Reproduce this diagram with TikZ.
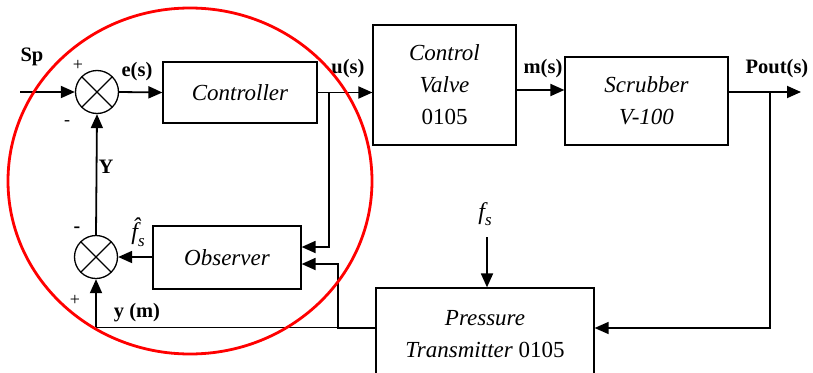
\documentclass[tikz,border=0pt]{standalone}
\usepackage{fontspec}
\setmainfont{Liberation Serif}
\usetikzlibrary{arrows.meta}
\tikzset{
	blk/.style={draw, line width=1.2pt, inner sep=0pt, align=center, font=\fontsize{23}{32}\selectfont\itshape},
	sumj/.style={draw, circle, line width=1.3pt, minimum size=43pt, inner sep=0pt,
		path picture={\draw[line width=1.1pt] (path picture bounding box.north west) -- (path picture bounding box.south east)
			(path picture bounding box.north east) -- (path picture bounding box.south west);}},
	sig/.style={line width=1.8pt, -{Triangle[length=14pt,width=12pt]}},
	lab/.style={font=\fontsize{20.5}{21}\selectfont\bfseries},
	sgn/.style={font=\fontsize{18}{18}\selectfont},
	sym/.style={font=\fontsize{24}{24}\selectfont\itshape, inner sep=1pt},
}
\newcommand{\subs}{\raisebox{-0.28em}{\fontsize{17}{17}\selectfont\itshape s}}
\begin{document}
\begin{tikzpicture}[x=1pt, y=-1pt]
		\useasboundingbox (0, 0) rectangle (813, 372);
		% blocks
		\node[sumj] (sum1) at (97, 92) {};
		\node[sumj] (sum2) at (96, 257) {};
		\node[blk, minimum width=154pt, minimum height=61pt] (ctrl) at (240, 92.5) {Controller};
		\node[blk, minimum width=143pt, minimum height=120pt] (valve) at (444.5, 85) {Control\\Valve\\\upshape 0105};
		\node[blk, minimum width=163pt, minimum height=88pt] (scrub) at (646.5, 101) {Scrubber\\V-100};
		\node[blk, minimum width=148pt, minimum height=63pt] (obs) at (227, 257.5) {Observer};
		\node[blk, minimum width=218pt, minimum height=92pt] (ptx) at (485, 334) {Pressure\\Transmitter \upshape 0105};
		% free ends
		\coordinate (sp) at (20, 92);
		\coordinate (out) at (801, 92);
		\coordinate (ubr) at (329, 92);
		\coordinate (pbr) at (770, 92);
		\coordinate (fs) at (487, 237);
		\coordinate (ym) at (96, 327);
		\coordinate (obr) at (338, 328);
		% forward path
		\draw[sig] (sp) -- (sum1.west);
		\draw[sig] (sum1.east) -- (ctrl.west);
		\draw[sig] (ctrl.east) -- (ctrl.east -| valve.west);
		\draw[sig] (valve.east |- 0, 90) -- (scrub.west |- 0, 90);
		\draw[sig] (scrub.east |- out) -- (out);
		% feedback paths
		\draw[line width=1.5pt, -{Triangle[length=14pt,width=12pt]}] (pbr) -- (770, 328) -- (ptx.east |- 0, 328);
		\draw[sig] (ubr) -- (329, 247) -- (obs.east |- 0, 247);
		\draw[sig] (ptx.west |- obr) -- (obr) -- (338, 264) -- (obs.east |- 0, 264);
		\draw[line width=0.8pt] (ptx.west |- ym) -- (ym);
		\draw[sig] (ym) -- (sum2.south);
		\draw[sig] (sum2 -| obs.west) -- (sum2.east);
		\draw[sig] (sum2.north) -- (sum1.south);
		\draw[sig] (fs) -- (fs |- ptx.north);
		% labels
		\node[lab] (lsp) at (32, 57) {Sp};
		\node[lab] (les) at (137, 72) {e(s)};
		\node[lab] (lus) at (348, 69) {u(s)};
		\node[lab] (lms) at (543, 69) {m(s)};
		\node[lab] (lpo) at (777, 69) {Pout(s)};
		\node[lab] (ly) at (106, 167) {Y};
		\node[lab] (lym) at (137, 313) {y (m)};
		\node[sgn] (p1) at (78, 65) {+};
		\node[sgn] (m1) at (67, 123) {-};
		\node[sgn, font=\fontsize{20}{20}\selectfont\bfseries] (m2) at (77, 230) {-};
		\node[sgn] (p2) at (75, 300) {+};
		\node[sym] (lfh) at (138, 232) {\^{f}\subs};
		\node[sym] (lfs) at (485, 214) {f\subs};
		% observer region
		\draw[red, line width=2.8pt] (190, 181) ellipse [x radius=182, y radius=173];
	\end{tikzpicture}
\end{document}
